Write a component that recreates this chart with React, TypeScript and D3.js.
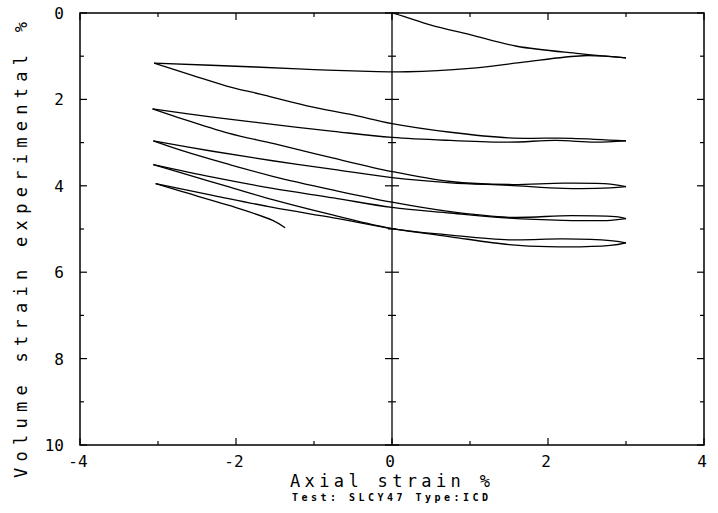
import React from "react";
import * as d3 from "d3";

// axis ticks
const xTicks = [-4, -3, -2, -1, 0, 1, 2, 3, 4];
const yTicks = [0, 1, 2, 3, 4, 5, 6, 7, 8, 9, 10];
const xLabels = ["-4", "-2", "0", "2", "4"];
const yLabels = ["0", "2", "4", "6", "8", "10"];

// [axial strain %, volume strain %], one array per pen stroke
const load0 = [[0, 0], [0.15, 0.08], [0.5, 0.28], [1.0, 0.5], [1.6, 0.77], [2.4, 0.94], [3, 1.04]];
const return0 = [[3, 1.04], [2.45, 0.99], [1.64, 1.15], [1.0, 1.28], [0.2, 1.36], [-0.3, 1.35], [-1.0, 1.31], [-1.75, 1.25], [-3.05, 1.16]];
const load1 = [[-3.05, 1.16], [-2.55, 1.45], [-2.12, 1.69], [-1.69, 1.88], [-1.09, 2.15], [-0.5, 2.36], [0, 2.56], [0.75, 2.76], [1.5, 2.89], [2.3, 2.9], [3, 2.96]];
const return1 = [[3, 2.96], [2.6, 2.99], [2.1, 2.95], [1.5, 2.99], [0.75, 2.95], [0, 2.88], [-0.75, 2.74], [-1.53, 2.58], [-2.3, 2.41], [-3.07, 2.22]];
const load2 = [[-3.07, 2.22], [-2.74, 2.42], [-2.1, 2.78], [-1.5, 3.03], [-0.75, 3.36], [0, 3.67], [0.75, 3.9], [1.5, 3.97], [2.2, 3.94], [2.8, 3.96], [3, 4.02]];
const return2 = [[3, 4.02], [2.8, 4.05], [2.2, 4.06], [1.5, 3.99], [0.75, 3.93], [0, 3.81], [-0.75, 3.62], [-1.53, 3.42], [-2.3, 3.2], [-3.06, 2.96]];
const load3 = [[-3.06, 2.96], [-2.7, 3.18], [-2.1, 3.5], [-1.53, 3.78], [-0.75, 4.1], [0, 4.38], [0.75, 4.6], [1.5, 4.73], [2.3, 4.69], [2.9, 4.72], [3, 4.76]];
const return3 = [[3, 4.76], [2.8, 4.8], [2.2, 4.8], [1.5, 4.75], [0.75, 4.63], [0, 4.5], [-0.75, 4.28], [-1.53, 4.06], [-2.3, 3.8], [-3.06, 3.51]];
const load4 = [[-3.06, 3.51], [-2.7, 3.7], [-2.1, 4.02], [-1.53, 4.32], [-0.75, 4.68], [0, 4.99], [0.75, 5.14], [1.5, 5.25], [2.2, 5.23], [2.8, 5.27], [3, 5.32]];
const return4 = [[3, 5.32], [2.8, 5.38], [2.0, 5.41], [1.5, 5.36], [0.75, 5.18], [0, 4.99], [-0.75, 4.74], [-1.53, 4.5], [-2.3, 4.22], [-3.03, 3.95]];
const load5 = [[-3.03, 3.95], [-2.7, 4.13], [-2.1, 4.45], [-1.53, 4.8], [-1.37, 4.97]];

const strokes = [load0, return0, load1, return1, load2, return2, load3, return3, load4, return4, load5];

const W = 718;
const H = 513;
const font = "'DejaVu Sans Mono', monospace";

export default function App() {
  const x = d3.scaleLinear().domain([-4, 4]).range([80, 704]);
  const y = d3.scaleLinear().domain([0, 10]).range([13, 445]);

  const line = d3
    .line<number[]>()
    .x((d) => x(d[0]))
    .y((d) => y(d[1]))
    .curve(d3.curveCatmullRom.alpha(0.5));

  const tickLen = (v: number) => (v % 2 === 0 ? 7 : 4);

  return (
    <svg
      width={W}
      height={H}
      style={{ position: "absolute", left: 0, top: 0, background: "#fff" }}
    >
      {/* frame */}
      <rect
        x={x(-4)}
        y={y(0)}
        width={x(4) - x(-4)}
        height={y(10) - y(0)}
        fill="none"
        stroke="#000"
        strokeWidth={1.5}
      />
      {/* zero axial strain line */}
      <line x1={x(0)} x2={x(0)} y1={y(0)} y2={y(10)} stroke="#000" strokeWidth={1.3} />

      {/* ticks */}
      {xTicks.map((v) => (
        <g key={"xt" + v}>
          <line x1={x(v)} x2={x(v)} y1={y(10)} y2={y(10) - tickLen(v)} stroke="#000" strokeWidth={1.2} />
          <line x1={x(v)} x2={x(v)} y1={y(0)} y2={y(0) + tickLen(v)} stroke="#000" strokeWidth={1.2} />
        </g>
      ))}
      {yTicks.map((v) => (
        <g key={"yt" + v}>
          <line x1={x(-4)} x2={x(-4) + tickLen(v)} y1={y(v)} y2={y(v)} stroke="#000" strokeWidth={1.2} />
          <line x1={x(4)} x2={x(4) - tickLen(v)} y1={y(v)} y2={y(v)} stroke="#000" strokeWidth={1.2} />
          <line x1={x(0) - tickLen(v)} x2={x(0) + tickLen(v)} y1={y(v)} y2={y(v)} stroke="#000" strokeWidth={1.2} />
        </g>
      ))}

      {/* tick labels */}
      {xLabels.map((t) => (
        <text
          key={"xl" + t}
          x={x(+t) - 2}
          y={467}
          textAnchor="middle"
          fontFamily={font}
          fontSize={16}
          fill="#000"
        >
          {t}
        </text>
      ))}
      {yLabels.map((t) => (
        <text
          key={"yl" + t}
          x={64}
          y={y(+t) + 6}
          textAnchor="end"
          fontFamily={font}
          fontSize={16}
          fill="#000"
        >
          {t}
        </text>
      ))}

      {/* hysteresis strokes */}
      {strokes.map((s, i) => (
        <path key={"s" + i} d={line(s) || ""} fill="none" stroke="#000" strokeWidth={1.3} />
      ))}

      {/* titles */}
      <text
        x={290}
        y={487}
        textLength={200}
        lengthAdjust="spacing"
        fontFamily={font}
        fontSize={17}
        fill="#000"
      >
        Axial strain  %
      </text>
      <text
        transform="translate(27,478) rotate(-90)"
        x={0}
        y={0}
        textLength={456}
        lengthAdjust="spacing"
        fontFamily={font}
        fontSize={17}
        fill="#000"
      >
        Volume strain experimental  %
      </text>
      <text
        x={292}
        y={501}
        textLength={196}
        lengthAdjust="spacing"
        fontFamily={font}
        fontSize={10}
        fontWeight="bold"
        fill="#000"
      >
        Test: SLCY47 Type:ICD
      </text>
    </svg>
  );
}
